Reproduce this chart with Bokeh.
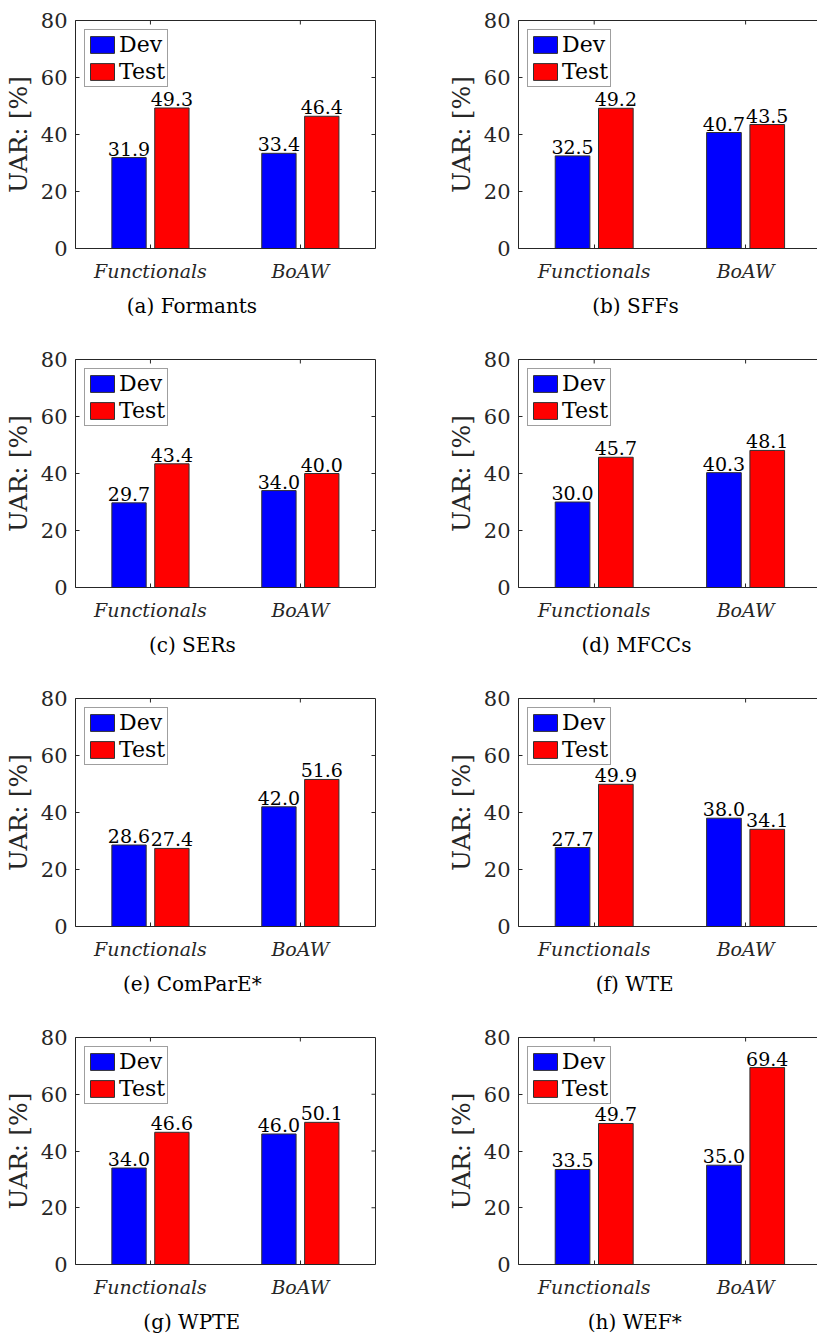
import math
from bokeh.plotting import figure
from bokeh.layouts import row, column
from bokeh.models import ColumnDataSource, FixedTicker, LinearAxis, Range1d, Title
from bokeh.core.properties import value
from bokeh.embed import file_html
from bokeh.resources import INLINE

# ---------------- data ----------------
categories = ["Functionals", "BoAW"]
series_names = ["Dev", "Test"]
y_ticks = [0, 20, 40, 60, 80]

panel_tags = ["(a)", "(b)", "(c)", "(d)", "(e)", "(f)", "(g)", "(h)"]
panel_names = ["Formants", "SFFs", "SERs", "MFCCs", "ComParE*", "WTE", "WPTE", "WEF*"]

dev_formants = [31.9, 33.4]
test_formants = [49.3, 46.4]
dev_sffs = [32.5, 40.7]
test_sffs = [49.2, 43.5]
dev_sers = [29.7, 34.0]
test_sers = [43.4, 40.0]
dev_mfccs = [30.0, 40.3]
test_mfccs = [45.7, 48.1]
dev_compare = [28.6, 42.0]
test_compare = [27.4, 51.6]
dev_wte = [27.7, 38.0]
test_wte = [49.9, 34.1]
dev_wpte = [34.0, 46.0]
test_wpte = [46.6, 50.1]
dev_wef = [33.5, 35.0]
test_wef = [49.7, 69.4]

dev_all = [dev_formants, dev_sffs, dev_sers, dev_mfccs, dev_compare, dev_wte, dev_wpte, dev_wef]
test_all = [test_formants, test_sffs, test_sers, test_mfccs, test_compare, test_wte, test_wpte, test_wef]

# ---------------- styles ----------------
DEV_COLOR = "#0000FF"
TEST_COLOR = "#FF0000"
AX_COLOR = "#262626"
SERIF = "DejaVu Serif"
CAP_FONT = "DejaVu Serif"
CAP_SIZE = 20
PX_PER_UNIT = 151.4
BAR_OFF = 0.143
BAR_W = 0.229
FRAME_H = 228
CAP_CENTER = 117  # caption centre, px right of the frame's left edge

# approximate DejaVu Serif advance widths (em) used to centre the captions
DJV_W = {"(": .390, ")": .390, " ": .318, "*": .500, "a": .596, "b": .640, "c": .560,
         "d": .640, "e": .592, "f": .370, "g": .640, "h": .644, "o": .602, "r": .478,
         "m": .948, "n": .644, "t": .402, "s": .513, "A": .722, "C": .735, "E": .730,
         "F": .694, "M": .995, "P": .678, "R": .770, "S": .685, "T": .668, "W": 1.103}


def text_width(s, size):
    return sum(DJV_W.get(ch, 0.6) for ch in s) * size


def style_axis(ax):
    ax.axis_line_color = AX_COLOR
    ax.axis_line_width = 1
    ax.major_tick_line_color = AX_COLOR
    ax.major_tick_in = 4
    ax.major_tick_out = 0
    ax.minor_tick_line_color = None


def make_panel(idx, right_col, bottom_row):
    frame_w = 299 if right_col else 303
    bl = 111 if right_col else 72
    br = 0 if right_col else 32
    H = 323 if bottom_row else 339
    bt = 20
    bb = H - bt - FRAME_H
    x_end = 0.5 + frame_w / PX_PER_UNIT

    p = figure(width=bl + frame_w + br, height=H,
               x_range=Range1d(0.5, x_end), y_range=Range1d(y_ticks[0], y_ticks[-1]),
               output_backend="svg", toolbar_location=None, tools="",
               x_axis_location=None, y_axis_location=None,
               min_border_left=bl, min_border_right=br,
               min_border_top=bt, min_border_bottom=bb)
    p.outline_line_color = None
    p.xgrid.visible = False
    p.ygrid.visible = False
    p.background_fill_color = "white"
    p.border_fill_color = "white"

    xs = [i + 1 for i in range(len(categories))]
    dev = dev_all[idx]
    test = test_all[idx]
    src = ColumnDataSource(dict(
        xd=[x - BAR_OFF for x in xs], xt=[x + BAR_OFF for x in xs],
        dev=dev, test=test,
        dev_lbl=[f"{v:.1f}" for v in dev], test_lbl=[f"{v:.1f}" for v in test],
    ))

    p.vbar(x="xd", top="dev", width=BAR_W, source=src, fill_color=DEV_COLOR,
           line_color="#303030", line_width=1, legend_label=series_names[0])
    p.vbar(x="xt", top="test", width=BAR_W, source=src, fill_color=TEST_COLOR,
           line_color="#303030", line_width=1, legend_label=series_names[1])

    for xcol, ycol, tcol in (("xd", "dev", "dev_lbl"), ("xt", "test", "test_lbl")):
        p.text(x=xcol, y=ycol, text=tcol, source=src, text_align="center",
               text_baseline="bottom", y_offset=-2,
               text_font=value(SERIF), text_font_size="19px", text_color="black")

    # inward ticks on the top and right frame edges
    p.scatter(x=xs, y=[y_ticks[-1]] * len(xs), marker="dash", angle=math.pi / 2,
              size=8, line_color=AX_COLOR, line_width=1)
    if not right_col:
        p.scatter(x=[x_end] * (len(y_ticks) - 2), y=y_ticks[1:-1], marker="dash",
                  size=8, line_color=AX_COLOR, line_width=1)

    # axes
    left = LinearAxis(ticker=FixedTicker(ticks=y_ticks), axis_label="UAR: [%]")
    style_axis(left)
    left.major_label_text_font = SERIF
    left.major_label_text_font_size = "21px"
    left.major_label_text_color = AX_COLOR
    left.major_label_standoff = 8
    left.axis_label_text_font = SERIF
    left.axis_label_text_font_size = "25px"
    left.axis_label_text_font_style = "normal"
    left.axis_label_text_color = AX_COLOR
    left.axis_label_standoff = 5
    p.add_layout(left, "left")

    below = LinearAxis(ticker=FixedTicker(ticks=xs),
                       major_label_overrides={x: c for x, c in zip(xs, categories)})
    style_axis(below)
    below.major_label_text_font = SERIF
    below.major_label_text_font_style = "italic"
    below.major_label_text_font_size = "19px"
    below.major_label_text_color = AX_COLOR
    below.major_label_standoff = 11
    p.add_layout(below, "below")

    above = LinearAxis(ticker=FixedTicker(ticks=[]))
    style_axis(above)
    p.add_layout(above, "above")
    if not right_col:
        right = LinearAxis(ticker=FixedTicker(ticks=[]))
        style_axis(right)
        p.add_layout(right, "right")

    # legend
    lg = p.legend[0]
    lg.location = "top_left"
    lg.margin = 9
    lg.padding = 2
    lg.spacing = 2
    lg.glyph_width = 30
    lg.glyph_height = 21
    lg.label_standoff = 2
    lg.label_text_font = SERIF
    lg.label_text_font_size = "22px"
    lg.label_text_color = "black"
    lg.border_line_color = "#404040"
    lg.border_line_width = 1
    lg.background_fill_alpha = 1.0

    # sub-caption
    cap_text = f"{panel_tags[idx]} {panel_names[idx]}"
    cap = Title(text=cap_text, align="left",
                offset=CAP_CENTER - text_width(cap_text, CAP_SIZE) / 2,
                text_font=CAP_FONT, text_font_size=f"{CAP_SIZE}px", text_font_style="normal",
                text_color="black", standoff=14)
    p.add_layout(cap, "below")
    return p


rows = []
for r in range(4):
    pl = make_panel(2 * r, False, r == 3)
    pr = make_panel(2 * r + 1, True, r == 3)
    rows.append(row(pl, pr))
layout = column(*rows)

open("out.html", "w").write(file_html(layout, INLINE))
